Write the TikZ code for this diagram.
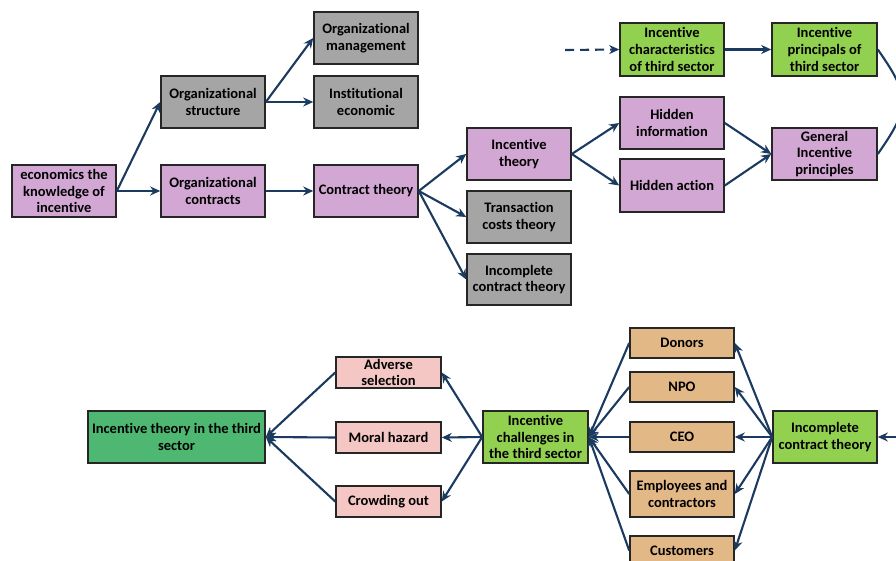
\documentclass[tikz,border=0pt]{standalone}
\usepackage{fontspec}
\setmainfont{Carlito}[Ligatures=NoCommon]
\usetikzlibrary{arrows.meta}
\definecolor{cpurple}{HTML}{D2A7D4}
\definecolor{cgray}{HTML}{A5A5A5}
\definecolor{cgreen}{HTML}{92D050}
\definecolor{cpink}{HTML}{F4C6C4}
\definecolor{ctan}{HTML}{E3B887}
\definecolor{cdgreen}{HTML}{4EB872}
\definecolor{carrow}{HTML}{1B3A60}
\definecolor{cborder}{HTML}{262626}
\tikzset{
  box/.style={draw=cborder, line width=1.6pt, align=center, inner sep=0pt,
    font=\fontsize{14.5}{16.7}\selectfont\bfseries, text=black,
    minimum width=104pt, minimum height=52pt},
  pbox/.style={box, fill=cpurple},
  gbox/.style={box, fill=cgray},
  lgbox/.style={box, fill=cgreen},
  pkbox/.style={box, fill=cpink, minimum width=105pt, minimum height=31pt},
  tbox/.style={box, fill=ctan, minimum height=30pt},
  dgbox/.style={box, fill=cdgreen},
  conn/.style={draw=carrow, line width=2.1pt, -{Stealth[length=10pt,width=9pt]}},
  plain/.style={draw=carrow, line width=2.1pt},
}
\begin{document}
\begin{tikzpicture}[x=1pt,y=-1pt]
\useasboundingbox (0,0) rectangle (896,561);
\fill[white] (0,0) rectangle (896,561);
\clip (0,0) rectangle (896,561);
% top part
\node[pbox] (econ) at (64,191) {economics the\\knowledge of\\incentive};
\node[gbox] (orgS) at (213,102) {Organizational\\structure};
\node[pbox] (orgC) at (213,191) {Organizational\\contracts};
\node[gbox] (orgM) at (366,38) {Organizational\\management};
\node[gbox] (inst) at (366,102) {Institutional\\economic};
\node[pbox] (contract) at (366,191) {Contract theory};
\node[pbox] (incT) at (519,154) {Incentive\\theory};
\node[gbox] (trans) at (519,217) {Transaction\\costs theory};
\node[gbox, minimum height=51pt] (incG) at (519,279.5) {Incomplete\\contract theory};
\node[lgbox, minimum height=53pt] (char) at (672,49.5) {Incentive\\characteristics\\of third sector};
\node[lgbox, minimum height=53pt, minimum width=105pt] (princ) at (824.5,49.5) {Incentive\\principals of\\third sector};
\node[pbox] (hidI) at (672,123) {Hidden\\information};
\node[pbox, minimum height=53pt] (hidA) at (672,185.5) {Hidden action};
\node[pbox, minimum width=105pt] (gen) at (824.5,154) {General\\Incentive\\principles};
\coordinate (dashS) at (565,50);
% bottom part
\node[dgbox, minimum width=177pt] (third) at (176.5,437) {Incentive theory in the third\\sector};
\node[pkbox] (adv) at (388.5,372.5) {Adverse\\selection};
\node[pkbox] (moral) at (388.5,437.5) {Moral hazard};
\node[pkbox] (crowd) at (388.5,501.5) {Crowding out};
\node[lgbox, minimum width=105pt] (chall) at (535.5,437) {Incentive\\challenges in\\the third sector};
\node[tbox] (donors) at (682,343) {Donors};
\node[tbox] (npo) at (682,387) {NPO};
\node[tbox] (ceo) at (682,437) {CEO};
\node[tbox, minimum height=46pt] (emp) at (682,494) {Employees and\\contractors};
\node[tbox, minimum height=29pt] (cust) at (682,550.5) {Customers};
\node[lgbox] (incGr) at (825,437) {Incomplete\\contract theory};
\coordinate (inR) at (905,437);
% connectors top
\draw[conn] (econ.east) -- (orgS.west);
\draw[conn] (econ.east) -- (orgC.west);
\draw[conn] (orgS.east) -- (orgM.west);
\draw[conn] (orgS.east) -- (inst.west);
\draw[conn] (orgC.east) -- (contract.west);
\draw[conn] (contract.east) -- (incT.west);
\draw[conn] (contract.east) -- (trans.west);
\draw[conn] (contract.east) -- (incG.west);
\draw[conn] (incT.east) -- (hidI.west);
\draw[conn] (incT.east) -- (hidA.west);
\draw[conn] (hidI.east) -- (gen.west);
\draw[conn] (hidA.east) -- (gen.west);
\draw[conn, dash pattern=on 9pt off 6pt] (dashS) -- (char.west);
\draw[conn] (char.east) -- (princ.west);
\draw[plain] (princ.east) to[out=-55, in=55, looseness=1.4] (gen.east);
% connectors bottom
\draw[conn] (inR) -- (incGr.east);
\foreach \t in {donors,npo,ceo,emp,cust} {
  \draw[conn] (incGr.west) -- (\t.east);
  \draw[conn] (\t.west) -- (chall.east);
}
\foreach \t in {adv,moral,crowd} {
  \draw[conn] (chall.west) -- (\t.east);
  \draw[conn] (\t.west) -- (third.east);
}
\end{tikzpicture}
\end{document}
